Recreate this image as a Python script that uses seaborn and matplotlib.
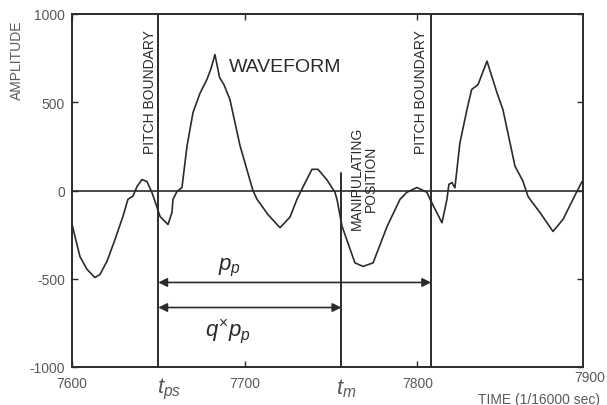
import numpy as np
import pandas as pd
import seaborn as sns
import matplotlib.pyplot as plt

# waveform samples (time in 1/16000 sec, amplitude)
time = [7600.0, 7601.7, 7604.6, 7608.7, 7613.3, 7616.2, 7620.3, 7624.9, 7629.5, 7632.4,
        7635.3, 7637.7, 7640.5, 7643.4, 7646.3, 7648.1, 7651.0, 7655.6, 7657.9, 7658.5,
        7660.8, 7663.7, 7666.6, 7670.1, 7674.1, 7678.2, 7680.5, 7682.8, 7685.5, 7688.0,
        7691.5, 7697.3, 7704.8, 7707.2, 7713.5, 7720.5, 7726.3, 7730.3, 7733.8, 7739.0,
        7742.5, 7747.7, 7752.3, 7753.5, 7756.4, 7763.9, 7768.6, 7774.4, 7782.5, 7790.0,
        7794.0, 7799.8, 7805.6, 7807.4, 7814.3, 7817.2, 7818.3, 7820.1, 7821.8, 7824.7,
        7828.8, 7831.5, 7835.2, 7840.4, 7846.2, 7849.6, 7856.6, 7861.2, 7864.1, 7865.3,
        7871.1, 7878.6, 7884.4, 7890.2, 7892.5, 7895.4]
amplitude = [-190, -260, -374, -447, -493, -476, -400, -278, -147, -50,
             -32, 23, 62, 51, -11, -62, -147, -193, -125, -50,
             -6, 17, 250, 442, 550, 630, 690, 770, 640, 600,
             515, 255, 0, -50, -136, -211, -150, -50, 20, 120,
             120, 60, -10, -50, -202, -410, -430, -410, -204, -50,
             -10, 17, -10, -50, -183, -50, 35, 45, 15, 270,
             459, 572, 600, 733, 553, 459, 138, 53, -32, -50,
             -125, -232, -164, -50, -5, 50]

t_ps = 7650      # first pitch boundary
t_m = 7756       # manipulating position
t_pb2 = 7808     # next pitch boundary
y_pp = -521      # p_p arrow level
y_qpp = -663     # q x p_p arrow level

xticks = [7600, 7700, 7800]
yticks = [-1000, -500, 0, 500, 1000]

df = pd.DataFrame({'time': time, 'amplitude': amplitude})

sns.set_style('ticks')
plt.rcParams['font.family'] = ['Liberation Sans', 'DejaVu Sans']
plt.rcParams['axes.unicode_minus'] = False
plt.rcParams['mathtext.fontset'] = 'custom'
plt.rcParams['mathtext.it'] = 'Liberation Sans:italic'
plt.rcParams['mathtext.rm'] = 'Liberation Sans'

ink = '#2b2b2b'
grey = '#5a5a5a'

fig = plt.figure(figsize=(6.07, 4.06), dpi=100)
ax = fig.add_axes([72 / 607, 38 / 406, 511 / 607, 353 / 406])

sns.lineplot(data=df, x='time', y='amplitude', ax=ax, color=ink, lw=1.2, sort=False)

ax.set_xlim(7600, 7896)
ax.set_ylim(-1000, 1000)
ax.set_xticks(xticks)
ax.set_yticks(yticks)
ax.set_xticklabels([str(v) for v in xticks])
ax.set_yticklabels([str(v) for v in yticks])
ax.tick_params(direction='in', length=4, width=1, top=True, right=True,
               colors=ink, labelcolor=grey, labelsize=10)
ax.tick_params(axis='x', pad=6.5)
ax.tick_params(axis='y', pad=5)
for s in ax.spines.values():
    s.set_color(ink)
    s.set_linewidth(1.4)

# zero line and boundaries
ax.axhline(0, color=ink, lw=1.2)
ax.axvline(t_ps, color=ink, lw=1.4)
ax.axvline(t_pb2, color=ink, lw=1.4)
ax.plot([t_m, t_m], [100, -1000], color=ink, lw=1.4)

# arrows
arrow = dict(arrowstyle='<|-|>', color=ink, lw=1.2, mutation_scale=13, shrinkA=0, shrinkB=0)
ax.annotate('', xy=(t_ps, y_pp), xytext=(t_pb2, y_pp), arrowprops=arrow)
ax.annotate('', xy=(t_ps, y_qpp), xytext=(t_m, y_qpp), arrowprops=arrow)

ax.text(7691, y_pp + 25, r'$p_p$', fontsize=16, color=ink, ha='center', va='bottom')
ax.text(7690, -790, r'$q^{\times}p_p$', fontsize=16, color=ink, ha='center', va='center')

ax.text(t_ps - 5, 915, 'PITCH BOUNDARY', rotation=90, fontsize=10, color=ink,
        ha='center', va='top')
ax.text(t_pb2 - 6, 915, 'PITCH BOUNDARY', rotation=90, fontsize=10, color=ink,
        ha='center', va='top')
ax.text(7691, 703, 'WAVEFORM', fontsize=14, color=ink, ha='left', va='center')
ax.text(7769, 74, 'MANIPULATING\nPOSITION', rotation=90, fontsize=10, color=ink,
        ha='center', va='center', multialignment='center', linespacing=1.0)

# labels under the time axis
xt = ax.get_xaxis_transform()
ax.text(t_ps + 6, -0.06, r'$t_{ps}$', transform=xt, fontsize=16, color=grey,
        ha='center', va='center', clip_on=False)
ax.text(t_m + 3, -0.06, r'$t_m$', transform=xt, fontsize=16, color=grey,
        ha='center', va='center', clip_on=False)
ax.text(7900, -0.028, '7900', transform=xt, fontsize=10, color=grey,
        ha='center', va='center', clip_on=False)

ax.set_xlabel('')
ax.set_ylabel('AMPLITUDE', fontsize=10, color=grey)
ax.yaxis.set_label_coords(-0.094, 0.873)
fig.text(600 / 607, 1 - 400 / 406, 'TIME (1/16000 sec)', fontsize=10, color=grey,
         ha='right', va='center')

fig.savefig('out.png', dpi=100)
